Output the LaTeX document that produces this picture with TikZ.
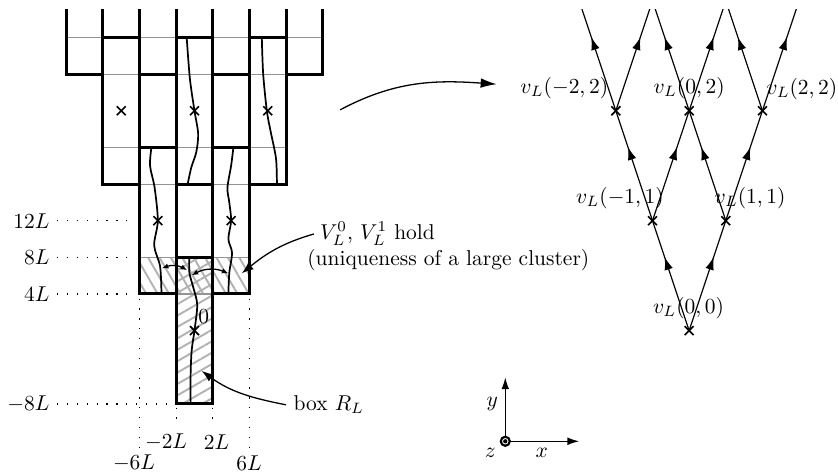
\documentclass[tikz,border=0pt]{standalone}
\usepackage{tikz}
\usetikzlibrary{arrows.meta, positioning, shapes.misc, patterns.meta, decorations.markings}

\begin{document}
\begin{tikzpicture}[x=0.15cm, y=0.15cm,
  cell/.style={line width=1.4pt},
  seam/.style={gray!85, line width=0.5pt},
  walk/.style={line width=0.8pt},
  vtx/.style={cross out, draw, line width=0.75pt, minimum size=3.4pt, inner sep=0pt},
  guide/.style={loosely dotted, line width=0.6pt},
  hatchA/.style={pattern={Lines[angle=-60, distance=4.6pt, line width=0.9pt]}, pattern color=gray!60},
  hatchB/.style={pattern={Lines[angle=30, distance=4.6pt, line width=0.9pt]}, pattern color=gray!60},
  flow/.style={line width=0.55pt, postaction={decorate},
               decoration={markings, mark=at position 0.67 with {\arrow{Latex[length=6pt, width=4pt]}}}},
  pointer/.style={-{Latex[length=5.5pt, width=4pt]}, line width=0.6pt},
  swap/.style={{Latex[length=3pt, width=2.5pt]}-{Latex[length=3pt, width=2.5pt]}, line width=0.6pt},
  note/.style={anchor=west, inner sep=0.2pt}
]
  \useasboundingbox (-21.23,-15.76) rectangle (70.25,36.09);

  % Hatched regions
  \path[hatchA] (-6,4) rectangle (6,8);
  \path[hatchB] (-2,-8) rectangle (2,8);

  % Lattice vertices
  \node[vtx] (v00) at (54,0) {};
  \node[vtx] (vm11) at (50,12) {};
  \node[vtx] (vp11) at (58,12) {};
  \node[vtx] (vm22) at (46,24) {};
  \node[vtx] (v02) at (54,24) {};
  \node[vtx] (vp22) at (62,24) {};
  \coordinate (vm33) at (42,36);
  \coordinate (vm13) at (50,36);
  \coordinate (vp13) at (58,36);
  \coordinate (vp33) at (66,36);

  \begin{scope}
    \clip (-22,-16) rectangle (71,35);
    % Seams
    \draw[seam] (-14,32) -- (14,32);
    \draw[seam] (-14,28) -- (14,28);
    \draw[seam] (-10,20) -- (10,20);
    \draw[seam] (-10,16) -- (10,16);
    \draw[seam] (-6,8) -- (6,8);
    \draw[seam] (-6,4) -- (6,4);
    % Boxes
    \foreach \cx/\cy in {0/0, -4/12, 4/12, -8/24, 0/24, 8/24, -12/36, -4/36, 4/36, 12/36}
      \draw[cell] ({\cx-2},{\cy-8}) rectangle ({\cx+2},{\cy+8});
    % Lattice edges
    \foreach \a/\b in {v00/vm11, v00/vp11, vm11/vm22, vm11/v02, vp11/v02, vp11/vp22,
                       vm22/vm33, vm22/vm13, v02/vm13, v02/vp13, vp22/vp13, vp22/vp33}
      \draw[flow] (\a.center) -- (\b.center);
  \end{scope}

  % Centres of boxes
  \node[vtx] (c0) at (0,0) {};
  \node[vtx] (c1l) at (-4,12) {};
  \node[vtx] (c1r) at (4,12) {};
  \node[vtx] (c2l) at (-8,24) {};
  \node[vtx] (c2m) at (0,24) {};
  \node[vtx] (c2r) at (8,24) {};
  \node (zero) at (1.0,1.5) {$0$};

  % Paths
  \draw[walk] plot[smooth] coordinates {(-0.85,32) (-0.5,27.5) (0,24) (0.4,21.5) (0.2,19.5) (-0.35,17.8) (-0.74,16)};
  \draw[walk] plot[smooth] coordinates {(7.35,32) (7.5,28) (7.9,24) (8.3,21.8) (8.9,18.8) (9,16)};
  \draw[walk] plot[smooth] coordinates {(-4.7,20) (-4.85,18) (-4.35,15.6) (-4,12) (-4.4,9.3) (-3.75,7) (-3.6,4)};
  \draw[walk] plot[smooth] coordinates {(4.25,20) (4,18) (3.6,15.6) (3.8,14) (4,12) (3.7,10) (4.1,8.5) (3.8,6.3) (3.7,4)};
  \draw[walk] plot[smooth] coordinates {(-0.57,8) (-0.55,6.3) (-0.1,4.6) (0.3,2.8) (0,0) (-0.3,-2.1) (-0.42,-4.7) (-0.42,-8)};

  % Gluing arrows
  \coordinate (gl1) at (-3.55,6.8);
  \coordinate (gl2) at (-0.8,6.6);
  \coordinate (gr1) at (-0.3,6.05);
  \coordinate (gr2) at (3.7,6.25);
  \draw[swap] (gl1) to[bend left=25] (gl2);
  \draw[swap] (gr1) to[bend left=25] (gr2);

  % Heights
  \node[anchor=east] (l12) at (-15,12) {$12L$};
  \node[anchor=east] (l8) at (-15,8) {$8L$};
  \node[anchor=east] (l4) at (-15,4) {$4L$};
  \node[anchor=east] (lm8) at (-15,-8) {$-8L$};
  \draw[guide] (l12) -- (-6.6,12);
  \draw[guide] (l8) -- (-6.6,8);
  \draw[guide] (l4) -- (-6.6,4);
  \draw[guide] (lm8) -- (-2.5,-8);

  % Widths
  \node (bm2) at (-3.1,-12.15) {$-2L$};
  \node (bp2) at (2.4,-12.15) {$2L$};
  \node (bm6) at (-6.6,-14.5) {$-6L$};
  \node (bp6) at (5.96,-14.5) {$6L$};
  \draw[guide] (-6,3.5) -- (-6,-13.1);
  \draw[guide] (6,3.5) -- (6,-13.1);
  \draw[guide] (-2,-8.4) -- (-2,-10.1);
  \draw[guide] (2,-8.4) -- (2,-10.1);

  % Annotations
  \node[note] (hold) at (13.63,10.55) {$V_L^0$, $V_L^1$ hold};
  \node[note] (uniq) at (12.23,7.65) {(uniqueness of a large cluster)};
  \coordinate (holdtip) at (5.16,6.25);
  \draw[pointer] ([xshift=-2.5pt]hold.west) to[out=196, in=39] (holdtip);
  \node[anchor=west] (box) at (10.0,-8.1) {box $R_L$};
  \coordinate (boxtip) at (0.79,-4.4);
  \draw[pointer] (box.west) to[out=169, in=-36] (boxtip);

  % Map to the lattice
  \coordinate (jumpA) at (15.9,24.1);
  \coordinate (jumpB) at (33.0,26.9);
  \draw[-{Latex[length=7.5pt, width=4.5pt]}, line width=0.6pt] (jumpA) to[out=28, in=176] (jumpB);

  % Lattice labels
  \node (t00) at (53.93,2.44) {$v_L(0,0)$};
  \node (tm11) at (46.45,14.45) {$v_L(-1,1)$};
  \node (tp11) at (60.65,14.45) {$v_L(1,1)$};
  \node (tm22) at (40.37,26.44) {$v_L(-2,2)$};
  \node (t02) at (54.0,26.5) {$v_L(0,2)$};
  \node (tp22) at (66.3,26.4) {$v_L(2,2)$};

  % Axes
  \node[circle, draw, line width=1pt, minimum size=4.2pt, inner sep=0pt] (zax) at (33.93,-12.08) {};
  \fill (zax.center) circle (1pt);
  \coordinate (xtip) at (42,-12.08);
  \coordinate (ytip) at (33.93,-5.1);
  \draw[-{Latex[length=5.5pt, width=3.6pt]}, line width=0.6pt] (zax) -- (xtip);
  \draw[-{Latex[length=5.5pt, width=3.6pt]}, line width=0.6pt] (zax) -- (ytip);
  \node (ylab) at (32.5,-8.0) {$y$};
  \node (xlab) at (37.9,-13.4) {$x$};
  \node (zlab) at (32.3,-13.4) {$z$};
\end{tikzpicture}
\end{document}
